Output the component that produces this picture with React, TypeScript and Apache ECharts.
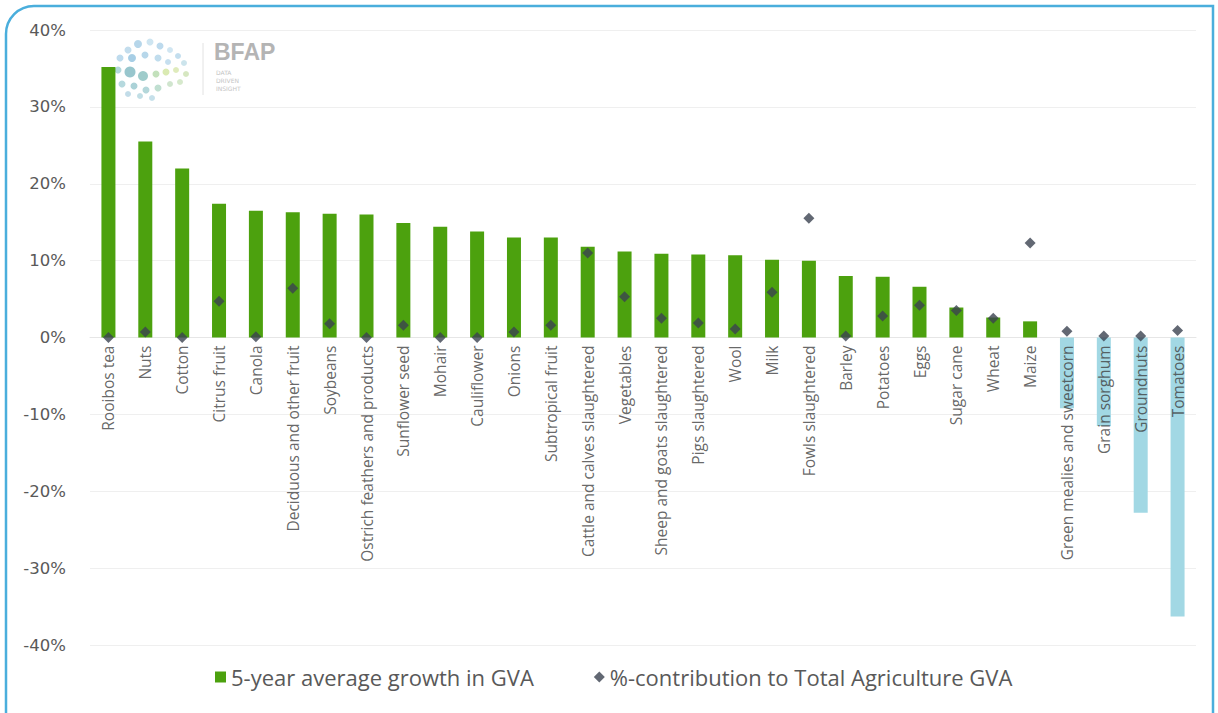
import React, { useEffect, useRef } from "react";
import * as echarts from "echarts";

const categories: string[] = [
  "Rooibos tea", "Nuts", "Cotton", "Citrus fruit", "Canola", "Deciduous and other fruit",
  "Soybeans", "Ostrich feathers and products", "Sunflower seed", "Mohair", "Cauliflower",
  "Onions", "Subtropical fruit", "Cattle and calves slaughtered", "Vegetables",
  "Sheep and goats slaughtered", "Pigs slaughtered", "Wool", "Milk", "Fowls slaughtered",
  "Barley", "Potatoes", "Eggs", "Sugar cane", "Wheat", "Maize",
  "Green mealies and sweetcorn", "Grain sorghum", "Groundnuts", "Tomatoes",
];

const growthGVA: number[] = [
  35.2, 25.5, 22.0, 17.4, 16.5, 16.3, 16.1, 16.0, 14.9, 14.4, 13.8, 13.0, 13.0, 11.8, 11.2,
  10.9, 10.8, 10.7, 10.1, 10.0, 8.0, 7.9, 6.6, 3.9, 2.6, 2.1, -9.2, -11.5, -22.8, -36.3,
];

const contribution: number[] = [
  0.0, 0.7, 0.0, 4.7, 0.1, 6.4, 1.8, 0.0, 1.6, 0.0, 0.0, 0.7, 1.6, 11.0, 5.3,
  2.5, 1.9, 1.1, 5.9, 15.5, 0.2, 2.8, 4.2, 3.5, 2.5, 12.3, 0.8, 0.2, 0.2, 0.9,
];

const yTicks = { min: -40, max: 40, interval: 10 };
const seriesNames = ["5-year average growth in GVA", "%-contribution to Total Agriculture GVA"];

const GREEN = "#4ca10e";
const BLUE = "#a2d8e4";
const DARK = "#3b4250";

const logoDots: [number, number, number, string][] = [
  [128, 50, 3.5, "#b9d7ea"], [138, 44, 4, "#a9cfe6"], [150, 42, 3.5, "#c5e0ef"], [160, 46, 3.5, "#b2d4ea"],
  [170, 50, 3, "#c9e2f0"], [178, 56, 3, "#b8d8eb"], [184, 63, 3, "#c3dfe9"], [120, 58, 3.5, "#b3d5ea"],
  [132, 58, 4, "#98c6e0"], [145, 55, 3.5, "#aad0e6"], [158, 58, 3.5, "#b6d7ea"], [168, 62, 3, "#bcd9ec"],
  [118, 70, 3.5, "#a6d1d6"], [130, 72, 5.5, "#86bcc4"], [143, 76, 5, "#8ec3c2"], [156, 74, 3.5, "#b9dcb0"],
  [166, 72, 3.5, "#d3e6a5"], [176, 70, 3, "#d9e8b0"], [186, 74, 3, "#cfe3b6"], [122, 84, 3.5, "#a9d2d8"],
  [134, 86, 3.5, "#9ccad0"], [146, 90, 3.5, "#a7d0d3"], [158, 88, 3.5, "#b5d9c9"], [170, 84, 3, "#c8e0c6"],
  [180, 82, 3, "#cfe5c3"], [140, 96, 3, "#b6d8e0"], [152, 98, 3, "#bcdbe6"], [128, 94, 3, "#b7d6e4"],
];

export default function App() {
  const ref = useRef<HTMLDivElement>(null);

  useEffect(() => {
    if (!ref.current) return;
    const chart = echarts.init(ref.current, undefined, { renderer: "svg" });

    const graphics: any[] = [
      {
        type: "rect",
        z: -10,
        shape: { x: 6, y: 6, width: 1207, height: 780, r: [28, 0, 0, 0] },
        style: { fill: "none", stroke: "#4aaedc", lineWidth: 2.5 },
      },
      ...logoDots.map(([x, y, r, c]) => ({
        type: "circle",
        z: -5,
        shape: { cx: x, cy: y, r },
        style: { fill: c, opacity: 0.85 },
      })),
      {
        type: "line",
        z: -5,
        shape: { x1: 203, y1: 43, x2: 203, y2: 95 },
        style: { stroke: "#e2e2e2", lineWidth: 1 },
      },
      {
        type: "text",
        z: -5,
        x: 214,
        y: 40,
        style: { text: "BFAP", fill: "#b4b4b4", font: "bold 23px 'Liberation Sans', sans-serif" },
      },
      {
        type: "text",
        z: -5,
        x: 216,
        y: 68,
        style: {
          text: "DATA\nDRIVEN\nINSIGHT",
          fill: "#c4c4c4",
          font: "6px 'DejaVu Sans', sans-serif",
          lineHeight: 8,
        },
      },
    ];

    chart.setOption({
      animation: false,
      backgroundColor: "#ffffff",
      graphic: graphics,
      grid: { left: 90, right: 22, top: 30, bottom: 68, containLabel: false, outerBoundsMode: "none" },
      legend: {
        bottom: 20,
        left: 210,
        itemGap: 60,
        itemWidth: 11,
        itemHeight: 11,
        textStyle: { color: "#595959", fontSize: 22, fontFamily: "'Open Sans', sans-serif" },
        data: [
          { name: seriesNames[0], icon: "rect", itemStyle: { color: GREEN } },
          { name: seriesNames[1], icon: "diamond", itemStyle: { color: DARK } },
        ],
      },
      xAxis: {
        type: "category",
        data: categories,
        axisLine: { onZero: true, lineStyle: { color: "#e6e6e6" } },
        axisTick: { show: false },
        axisLabel: { show: false },
        splitLine: { show: false },
      },
      yAxis: {
        type: "value",
        min: yTicks.min,
        max: yTicks.max,
        interval: yTicks.interval,
        axisLine: { show: false },
        axisTick: { show: false },
        axisLabel: {
          formatter: "{value}%",
          margin: 24,
          color: "#595959",
          fontSize: 16.5,
          fontFamily: "'DejaVu Sans', sans-serif",
        },
        splitLine: { lineStyle: { color: "#efefef", width: 1 } },
      },
      series: [
        {
          name: seriesNames[0],
          type: "bar",
          barWidth: 14,
          itemStyle: { color: GREEN },
          data: growthGVA.map((v) => ({
            value: v,
            itemStyle: { color: v >= 0 ? GREEN : BLUE },
          })),
          z: 2,
        },
        {
          name: "categoryLabels",
          type: "scatter",
          symbolSize: 0,
          silent: true,
          data: categories.map((c) => ({ value: 0, name: c })),
          label: {
            show: true,
            formatter: (p: any) => p.name,
            position: [0, 8],
            rotate: 90,
            align: "right",
            verticalAlign: "middle",
            color: "#404040",
            fontSize: 15.5,
            fontFamily: "'Open Sans', sans-serif",
          },
          z: 4,
        },
        {
          name: seriesNames[1],
          type: "scatter",
          symbol: "diamond",
          symbolSize: 11,
          itemStyle: { color: DARK },
          data: contribution,
          z: 5,
        },
      ],
    });

    return () => chart.dispose();
  }, []);

  return (
    <div
      ref={ref}
      style={{ position: "absolute", left: 0, top: 0, width: 1218, height: 713 }}
    />
  );
}
